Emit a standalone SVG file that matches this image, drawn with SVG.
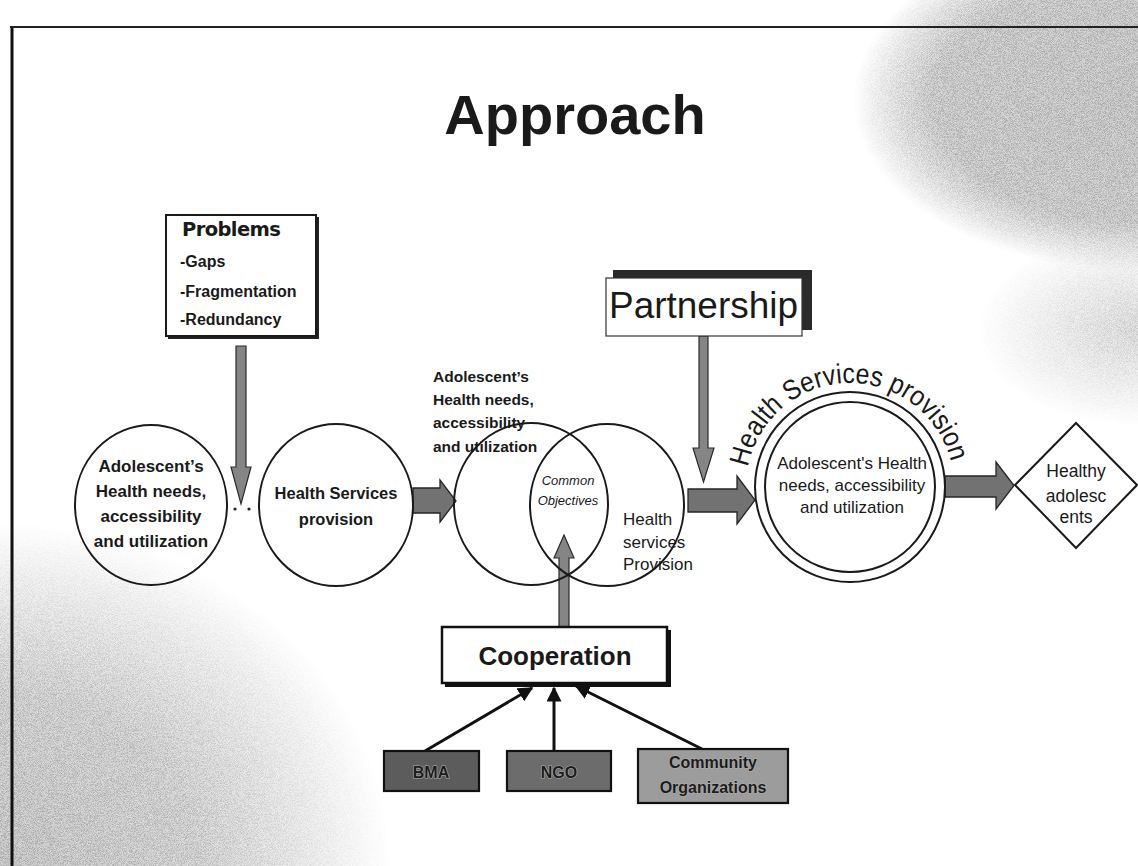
<svg xmlns="http://www.w3.org/2000/svg" xmlns:xlink="http://www.w3.org/1999/xlink" width="1138" height="866" viewBox="0 0 1138 866">
  <style>
    .t { font-family: "Liberation Sans", Arial, sans-serif; fill: #1a1a1a; }
    .b { font-weight: bold; }
    .line { fill: none; stroke: #1a1a1a; stroke-width: 2; }
    .block { fill: #727272; stroke: #262626; stroke-width: 1.3; stroke-linejoin: miter; }
    .vblock { fill: #858585; stroke: #2a2a2a; stroke-width: 1.2; }
    .thin { fill: none; stroke: #111; stroke-width: 3; marker-end: url(#head); }
    .org { stroke: #111; stroke-width: 2.2; }
    .orgtxt { font-family: "Liberation Sans", Arial, sans-serif; font-weight: bold; fill: #1c1c1c; stroke: #b0b0b0; stroke-width: 1.2; paint-order: stroke; text-anchor: middle; }
  </style>
  <defs>
    <marker id="head" viewBox="0 0 10 10" refX="9" refY="5" markerWidth="5" markerHeight="5" orient="auto" markerUnits="strokeWidth">
      <path d="M0,0 L10,5 L0,10 z" fill="#111"/>
    </marker>
    <filter id="grain" x="0" y="0" width="100%" height="100%" filterUnits="userSpaceOnUse">
      <feTurbulence type="fractalNoise" baseFrequency="1.3" numOctaves="2" seed="7" result="n"/>
      <feColorMatrix in="n" type="matrix" values="0 0 0 0 0  0 0 0 0 0  0 0 0 0 0  3 0 0 0 -1.1" result="na"/>
      <feComposite in="SourceGraphic" in2="na" operator="in"/>
    </filter>
    <radialGradient id="gTR" cx="1138" cy="100" r="285" gradientUnits="userSpaceOnUse" gradientTransform="translate(1138 100) scale(1 0.6) translate(-1138 -100)">
      <stop offset="0" stop-color="#8c8c8c" stop-opacity="1"/>
      <stop offset="0.72" stop-color="#8c8c8c" stop-opacity="0.9"/>
      <stop offset="1" stop-color="#8c8c8c" stop-opacity="0"/>
    </radialGradient>
    <radialGradient id="gR" cx="1138" cy="330" r="160" gradientUnits="userSpaceOnUse" gradientTransform="translate(1138 330) scale(1 0.6) translate(-1138 -330)">
      <stop offset="0" stop-color="#8c8c8c" stop-opacity="0.6"/>
      <stop offset="1" stop-color="#8c8c8c" stop-opacity="0"/>
    </radialGradient>
    <radialGradient id="gBL" cx="0" cy="866" r="390" gradientUnits="userSpaceOnUse" gradientTransform="translate(0 866) scale(1 0.88) translate(0 -866)">
      <stop offset="0" stop-color="#8c8c8c" stop-opacity="1"/>
      <stop offset="0.5" stop-color="#8c8c8c" stop-opacity="0.8"/>
      <stop offset="1" stop-color="#8c8c8c" stop-opacity="0"/>
    </radialGradient>
    <!-- baseline for the curved caption: radius 104 round the combined circle -->
    <path id="arcText" d="M747.9,467.2 A104,104 0 0 1 952.1,467.2"/>
  </defs>

  <!-- page -->
  <rect x="0" y="0" width="1138" height="866" fill="#ffffff"/>

  <!-- grainy grey shading in the corners -->
  <g id="shading">
    <g opacity="0.38">
      <rect x="0" y="0" width="1138" height="866" fill="url(#gTR)"/>
      <rect x="0" y="0" width="1138" height="866" fill="url(#gR)"/>
      <rect x="0" y="0" width="1138" height="866" fill="url(#gBL)"/>
    </g>
    <g filter="url(#grain)" opacity="0.6">
      <rect x="0" y="0" width="1138" height="866" fill="url(#gTR)"/>
      <rect x="0" y="0" width="1138" height="866" fill="url(#gR)"/>
      <rect x="0" y="0" width="1138" height="866" fill="url(#gBL)"/>
    </g>
  </g>

  <!-- frame -->
  <g id="frame">
    <line x1="12" y1="27" x2="12" y2="866" stroke="#111" stroke-width="3"/>
    <line x1="10" y1="27" x2="1138" y2="27" stroke="#222" stroke-width="2"/>
  </g>

  <text id="title" class="t b" x="575" y="134" font-size="56" text-anchor="middle">Approach</text>

  <!-- connectors -->
  <g id="connectors">
    <!-- problems down arrow -->
    <polygon class="vblock" points="236,346 246,346 246,467 251,467 241,504 231,467 236,467"/>
    <circle cx="235" cy="509" r="1.6" fill="#222"/>
    <circle cx="249" cy="509" r="1.6" fill="#222"/>
    <!-- provision to overlap -->
    <polygon class="block" points="413,488 440,488 440,480 456,501 440,522 440,513 413,513"/>
    <!-- overlap to combined circle -->
    <polygon class="block" points="688,489 737,489 737,476 755,500 737,524 737,512 688,512"/>
    <!-- partnership down arrow -->
    <polygon class="vblock" points="699,336 708,336 708,448 714,448 703.5,482 693,448 699,448"/>
    <!-- cooperation up arrow -->
    <polygon class="vblock" points="559,627 569,627 569,558 574,558 564,535 554,558 559,558"/>
    <!-- combined circle to healthy adolescents -->
    <polygon class="block" points="945,476 996,476 996,462 1014,485.5 996,509 996,497 945,497"/>
    <!-- organisations to cooperation -->
    <line class="thin" x1="425" y1="751" x2="532" y2="688"/>
    <line class="thin" x1="554" y1="751" x2="554" y2="688"/>
    <line class="thin" x1="702" y1="749" x2="576" y2="686"/>
  </g>

  <g id="problems">
    <rect x="168" y="217" width="151" height="122" fill="#222"/>
    <rect x="166" y="215" width="150" height="121" fill="#fff" stroke="#1a1a1a" stroke-width="2"/>
    <text x="182" y="236" font-family="'DejaVu Sans', 'Liberation Sans', sans-serif" font-weight="bold" font-size="19.5" fill="#1a1a1a" letter-spacing="-0.6">Problems</text>
    <text class="t b" x="180" y="267" font-size="16">-Gaps</text>
    <text class="t b" x="180" y="297" font-size="16">-Fragmentation</text>
    <text class="t b" x="180" y="325" font-size="16">-Redundancy</text>
  </g>

  <g id="needs">
    <ellipse cx="151" cy="505" rx="76" ry="80" class="line" fill="#fff"/>
    <g class="t b" font-size="17" text-anchor="middle">
      <text x="151" y="472">Adolescent’s</text>
      <text x="151" y="497">Health needs,</text>
      <text x="151" y="522">accessibility</text>
      <text x="151" y="547">and utilization</text>
    </g>
  </g>

  <g id="provision">
    <ellipse cx="336" cy="505" rx="77" ry="81" class="line" fill="#fff"/>
    <g class="t b" font-size="16.5" text-anchor="middle">
      <text x="336" y="499">Health Services</text>
      <text x="336" y="525">provision</text>
    </g>
  </g>

  <g id="overlap">
    <g class="t b" font-size="15.5">
      <text x="433" y="382">Adolescent’s</text>
      <text x="433" y="405">Health needs,</text>
      <text x="433" y="428">accessibility</text>
      <text x="433" y="452">and utilization</text>
    </g>
    <g class="t" font-size="17">
      <text x="623" y="525">Health</text>
      <text x="623" y="548">services</text>
      <text x="623" y="570">Provision</text>
    </g>
    <g class="t" font-size="13" font-style="italic" text-anchor="middle">
      <text x="568" y="485">Common</text>
      <text x="568" y="505">Objectives</text>
    </g>
    <ellipse cx="531" cy="504" rx="77" ry="81" class="line"/>
    <ellipse cx="607" cy="505" rx="77" ry="81" class="line"/>
  </g>

  <g id="partnership">
    <rect x="613" y="270" width="199" height="60" fill="#2a2a2a"/>
    <rect x="606" y="278" width="196" height="58" fill="#fff" stroke="#333" stroke-width="1.2"/>
    <text class="t" x="609" y="318" font-size="36" textLength="189" lengthAdjust="spacingAndGlyphs">Partnership</text>
  </g>

  <g id="combined">
    <circle cx="850" cy="487" r="95" class="line" fill="#fff"/>
    <circle cx="850" cy="487" r="85" class="line"/>
    <text class="t" font-size="28"><textPath href="#arcText" textLength="281" lengthAdjust="spacingAndGlyphs">Health Services provision</textPath></text>
    <g class="t" font-size="17" text-anchor="middle">
      <text x="852" y="469">Adolescent's Health</text>
      <text x="852" y="491">needs, accessibility</text>
      <text x="852" y="513">and utilization</text>
    </g>
  </g>

  <g id="healthy">
    <polygon points="1076,423 1137,485 1076,548 1015,485" class="line" fill="#fff"/>
    <g class="t" font-size="17.5" text-anchor="middle">
      <text x="1076" y="477">Healthy</text>
      <text x="1076" y="502">adolesc</text>
      <text x="1076" y="523">ents</text>
    </g>
  </g>

  <g id="cooperation">
    <rect x="445" y="630" width="226" height="57" fill="#111"/>
    <rect x="442" y="627" width="225" height="56" fill="#fff" stroke="#111" stroke-width="2.5"/>
    <text class="t b" x="555" y="665" font-size="26" text-anchor="middle">Cooperation</text>
  </g>

  <g id="bma">
    <rect x="384" y="751" width="95" height="40" fill="#5c5c5c" class="org"/>
    <text class="orgtxt" x="431" y="778" font-size="16">BMA</text>
  </g>
  <g id="ngo">
    <rect x="507" y="751" width="104" height="40" fill="#6c6c6c" class="org"/>
    <text class="orgtxt" x="559" y="778" font-size="16">NGO</text>
  </g>
  <g id="community">
    <rect x="638" y="749" width="150" height="54" fill="#9c9c9c" class="org"/>
    <text class="orgtxt" x="713" y="768" font-size="16">Community</text>
    <text class="orgtxt" x="713" y="793" font-size="16">Organizations</text>
  </g>
</svg>
